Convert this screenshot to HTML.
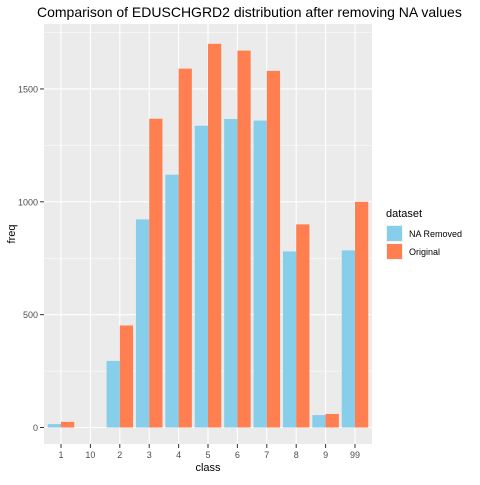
<!DOCTYPE html>
<html><head><meta charset="utf-8"><style>
body{margin:0;background:#fff;font-family:"Liberation Sans",Arial,sans-serif}
</style></head><body>
<svg id="c" width="480" height="480" xmlns="http://www.w3.org/2000/svg">
<rect x="0" y="0" width="480" height="480" fill="#fff"/>
<text x="37" y="17" font-size="14" fill="#000">Comparison of EDUSCHGRD2 distribution after removing NA values</text>
<rect x="44" y="24" width="328" height="420" fill="#ebebeb"/>
<g id="grid"></g><g id="bars"></g><g id="axes"></g>
<text x="208" y="471" font-size="11" text-anchor="middle" fill="#000">class</text>
<text x="15" y="234" font-size="11" text-anchor="middle" fill="#000" transform="rotate(-90 15 234)">freq</text>
<g>
<text x="386" y="217" font-size="11" fill="#000">dataset</text>
<rect x="386" y="225" width="17" height="17" fill="#f2f2f2"/><rect x="387" y="226" width="15" height="15" fill="#87CEEB"/>
<text x="409" y="237" font-size="9" fill="#000">NA Removed</text>
<rect x="386" y="243" width="17" height="17" fill="#f2f2f2"/><rect x="387" y="244" width="15" height="15" fill="#FF7F50"/>
<text x="409" y="255" font-size="9" fill="#000">Original</text>
</g>
</svg>
<script>
const categories=["1","10","2","3","4","5","6","7","8","9","99"];
const naRemoved=[15,0,295,922,1120,1337,1367,1360,780,55,785];
const original=[25,0,452,1368,1590,1700,1670,1580,900,60,1000];
const yTicks=[0,500,1000,1500];
const NS="http://www.w3.org/2000/svg";
const y0=427.5,pxPer=0.2257,x0=61,step=29.4,bw=13.25;
function yS(v){return y0-v*pxPer;}
function xS(i){return x0+i*step;}
function mk(tag,attrs,parent){const e=document.createElementNS(NS,tag);for(const k in attrs)e.setAttribute(k,attrs[k]);document.getElementById(parent).appendChild(e);return e;}
// minor grid
for(let i=0;i<yTicks.length;i++){const m=yTicks[i]+250;const l=mk('line',{x1:44,x2:372,y1:yS(m),y2:yS(m),stroke:'#fff','stroke-width':0.5},'grid');

}
yTicks.forEach(t=>{const l=mk('line',{x1:44,x2:372,y1:yS(t),y2:yS(t),stroke:'#fff','stroke-width':1.1},'grid');


const tk=mk('line',{x1:40,x2:44,y1:yS(t),y2:yS(t),stroke:'#333','stroke-width':1},'axes');


const tx=mk('text',{x:38,y:yS(t)+3.5,'font-size':9,'text-anchor':'end',fill:'#4d4d4d'},'axes');tx.textContent=t;

});
categories.forEach((c,i)=>{const x=xS(i);
const l=mk('line',{x1:x,x2:x,y1:24,y2:444,stroke:'#fff','stroke-width':1.1},'grid');


const tk=mk('line',{x1:x,x2:x,y1:444,y2:448,stroke:'#333','stroke-width':1},'axes');


const tx=mk('text',{x:x,y:458,'font-size':9,'text-anchor':'middle',fill:'#4d4d4d'},'axes');tx.textContent=c;


const a=mk('rect',{x:x-bw,y:yS(naRemoved[i]),width:bw,height:y0-yS(naRemoved[i]),fill:'#87CEEB'},'bars');


const b=mk('rect',{x:x,y:yS(original[i]),width:bw,height:y0-yS(original[i]),fill:'#FF7F50'},'bars');

});
</script>
</body></html>
